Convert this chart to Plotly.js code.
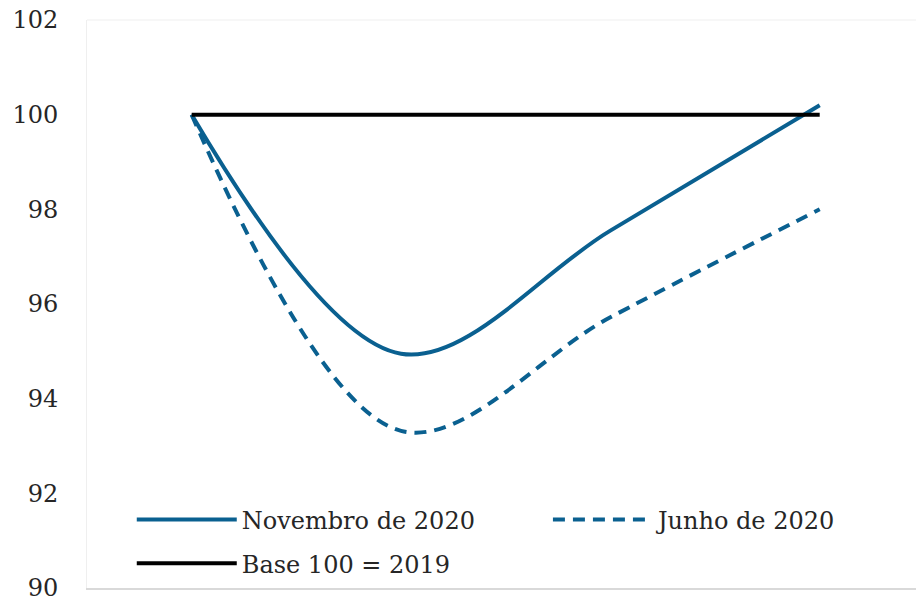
<!DOCTYPE html>
<html>
<head>
<meta charset="utf-8">
<script src="https://cdn.plot.ly/plotly-3.0.1.min.js"></script>
<style>html,body{margin:0;padding:0;background:#fff;}#chart{width:916px;height:603px;}</style>
</head>
<body>
<div id="chart"></div>
<script>
// Data
const periods = [0, 1, 2, 3];
const novembro2020 = [100, 94.95, 97.55, 100.2];
const junho2020 = [100, 93.32, 95.72, 98.0];
const base2019 = [100, 100, 100, 100];
const seriesNames = ['Novembro de 2020', 'Junho de 2020', 'Base 100 = 2019'];
const yTicks = [90, 92, 94, 96, 98, 100, 102];

const blue = '#0a6090';
const fontFamily = '"DejaVu Serif", "Liberation Serif", serif';
const textColor = '#262626';

const traces = [
  {x: periods, y: novembro2020, name: seriesNames[0], mode: 'lines', legend: 'legend',
   line: {color: blue, width: 4, shape: 'spline', smoothing: 1}},
  {x: periods, y: junho2020, name: seriesNames[1], mode: 'lines', legend: 'legend2',
   line: {color: blue, width: 4, dash: '12px,8px', shape: 'spline', smoothing: 1}},
  {x: periods, y: base2019, name: seriesNames[2], mode: 'lines', legend: 'legend3',
   line: {color: '#000000', width: 4}}
];

const legendCommon = {
  xanchor: 'left', yanchor: 'middle', itemwidth: 100, borderwidth: 0, orientation: 'v',
  font: {family: fontFamily, size: 24, color: textColor}, bgcolor: 'rgba(0,0,0,0)'
};

const layout = {
  width: 916, height: 603,
  margin: {l: 87, r: 0, t: 20, b: 15},
  paper_bgcolor: '#ffffff', plot_bgcolor: '#ffffff',
  font: {family: fontFamily, size: 24, color: textColor},
  xaxis: {range: [-0.5, 3.46], showticklabels: false, showgrid: false, zeroline: false,
          showline: true, linecolor: '#d9d9d9', linewidth: 2, ticks: ''},
  yaxis: {range: [90, 102], tickvals: yTicks, showgrid: false, zeroline: false,
          showline: true, linecolor: '#efefef', linewidth: 1, ticks: '', ticklabelstandoff: 23,
          ticklabeloverflow: 'allow',
          tickfont: {family: fontFamily, size: 24, color: textColor}},
  showlegend: true,
  legend: Object.assign({}, legendCommon, {x: 0.054, y: 0.12}),
  legend2: Object.assign({}, legendCommon, {x: 0.556, y: 0.12}),
  legend3: Object.assign({}, legendCommon, {x: 0.054, y: 0.043}),
  shapes: [{type: 'line', xref: 'paper', yref: 'paper', x0: 0, x1: 1, y0: 1, y1: 1,
            line: {color: '#efefef', width: 1}}]
};

Plotly.newPlot('chart', traces, layout, {displayModeBar: false});
</script>
</body>
</html>
